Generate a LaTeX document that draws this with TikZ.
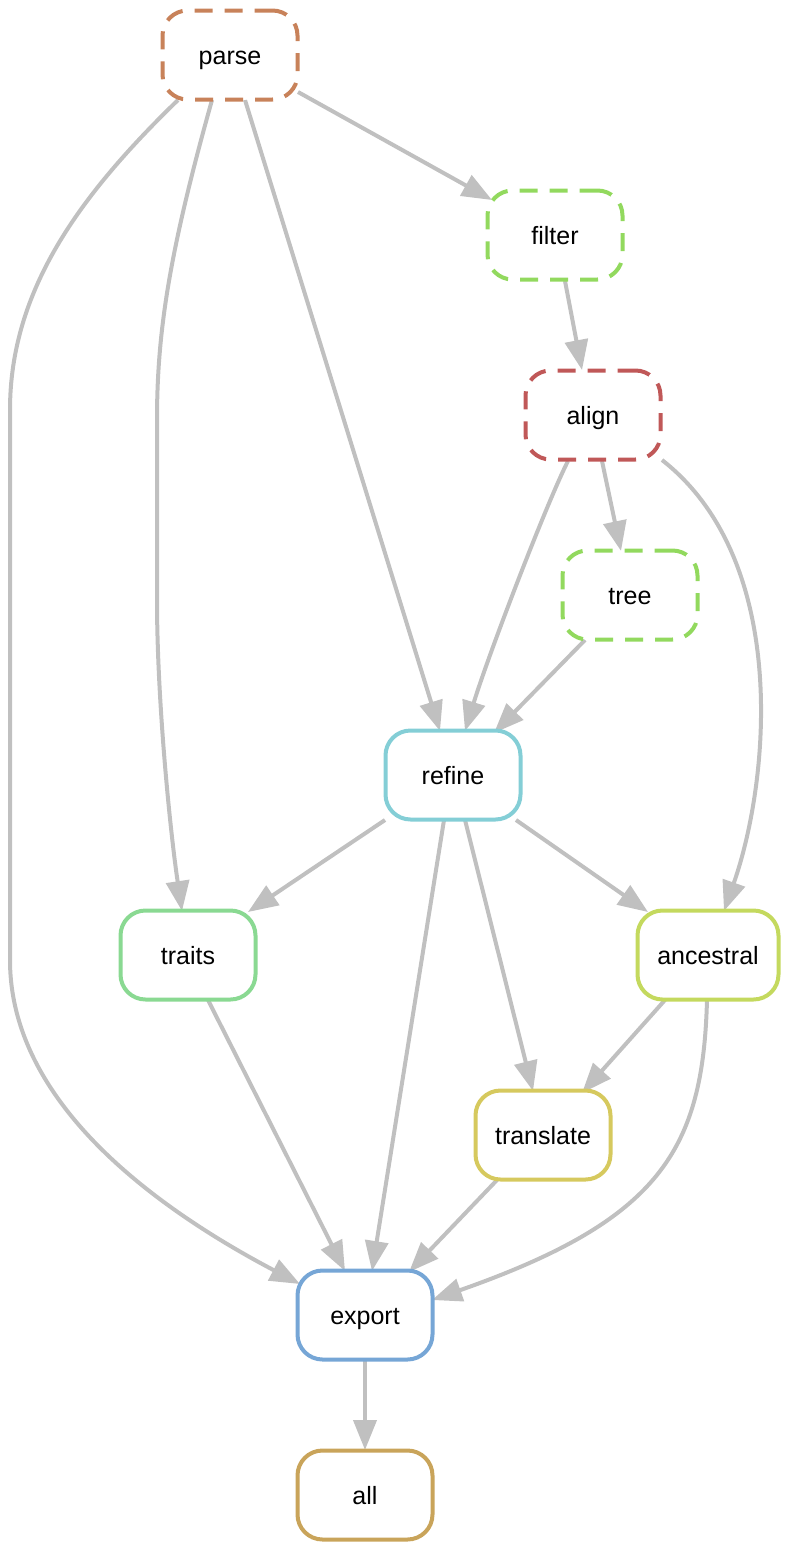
\documentclass[tikz,border=0pt]{standalone}
\usepackage{fontspec}
\setmainfont{Liberation Sans}
\usetikzlibrary{arrows.meta,calc}
\definecolor{cparse}{HTML}{C8825A}
\definecolor{cfilter}{HTML}{92D95E}
\definecolor{calign}{HTML}{C05858}
\definecolor{crefine}{HTML}{84CED6}
\definecolor{ctraits}{HTML}{8AD992}
\definecolor{cancestral}{HTML}{C4D95E}
\definecolor{ctranslate}{HTML}{D6C95E}
\definecolor{cexport}{HTML}{76A6D6}
\definecolor{call}{HTML}{C9A45A}
\definecolor{cedge}{HTML}{C0C0C0}
\tikzset{
  rulebox/.style={draw, line width=4pt, rounded corners=25pt, minimum width=135pt, minimum height=89pt, fill=white, inner sep=0pt, text height=18pt, text depth=0pt, font=\fontsize{25}{29}\selectfont},
  dashedbox/.style={rulebox, dash pattern=on 18pt off 12pt},
  edge/.style={draw=cedge, line width=4pt, -{Triangle[length=30pt,width=23pt,fill=cedge]}},
}
\begin{document}
\begin{tikzpicture}[x=1pt,y=-1pt]
\useasboundingbox (0,0) rectangle (787,1550);
% edges first
\coordinate (P) at (230,55);
\coordinate (F) at (555,235);
\coordinate (A) at (593,415);
\coordinate (T) at (630,595);
\coordinate (R) at (453,775);
\coordinate (Tr) at (188,955);
\coordinate (An) at (708,955);
\coordinate (Tl) at (543,1135);
\coordinate (E) at (365,1315);
\coordinate (L) at (365,1495);

\draw[edge] ($(P)+(68,37)$) -- ($(F)+(-63,-35)$);
\draw[edge] ($(F)+(10,46)$) -- ($(A)+(-11,-45)$);
\draw[edge] ($(A)+(9,46)$) -- ($(T)+(-9,-44)$);
\draw[edge] ($(A)+(-25,46)$) .. controls (548,500) and (490,650) .. ($(R)+(12,-44)$);
\draw[edge] ($(A)+(69,45)$) .. controls (790,560) and (770,780) .. ($(An)+(16,-44)$);
\draw[edge] ($(P)+(15,45)$) -- ($(R)+(-13,-44)$);
\draw[edge] ($(P)+(-18,45)$) .. controls (170,250) and (157,330) .. (157,420) -- (157,600) .. controls (157,700) and (170,830) .. ($(Tr)+(-6,-44)$);
\draw[edge] ($(P)+(-52,45)$) .. controls (80,195) and (10,290) .. (10,410) -- (10,960) .. controls (10,1100) and (150,1205) .. ($(E)+(-65,-31)$);
\draw[edge] ($(T)+(-45,45)$) -- ($(R)+(41,-42)$);
\draw[edge] ($(R)+(-68,45)$) -- ($(Tr)+(60,-43)$);
\draw[edge] ($(R)+(63,45)$) -- ($(An)+(-60,-43)$);
\draw[edge] ($(R)+(12,45)$) -- ($(Tl)+(-10,-44)$);
\draw[edge] ($(R)+(-9,45)$) -- ($(E)+(7,-44)$);
\draw[edge] ($(Tr)+(20,45)$) -- ($(E)+(-20,-44)$);
\draw[edge] ($(An)+(-43,45)$) -- ($(Tl)+(39,-42)$);
\draw[edge] ($(An)+(-1,45)$) .. controls (703,1150) and (660,1220) .. ($(E)+(67,-15)$);
\draw[edge] ($(Tl)+(-46,45)$) -- ($(E)+(44,-43)$);
\draw[edge] ($(E)+(0,46)$) -- ($(L)+(0,-45)$);

% nodes
\node[dashedbox, draw=cparse] (parse) at (P) {parse};
\node[dashedbox, draw=cfilter] (filter) at (F) {filter};
\node[dashedbox, draw=calign] (align) at (A) {align};
\node[dashedbox, draw=cfilter] (tree) at (T) {tree};
\node[rulebox, draw=crefine] (refine) at (R) {refine};
\node[rulebox, draw=ctraits] (traits) at (Tr) {traits};
\node[rulebox, draw=cancestral, minimum width=141pt] (ancestral) at (An) {ancestral};
\node[rulebox, draw=ctranslate] (translate) at (Tl) {translate};
\node[rulebox, draw=cexport] (export) at (E) {export};
\node[rulebox, draw=call] (all) at (L) {all};
\end{tikzpicture}
\end{document}
